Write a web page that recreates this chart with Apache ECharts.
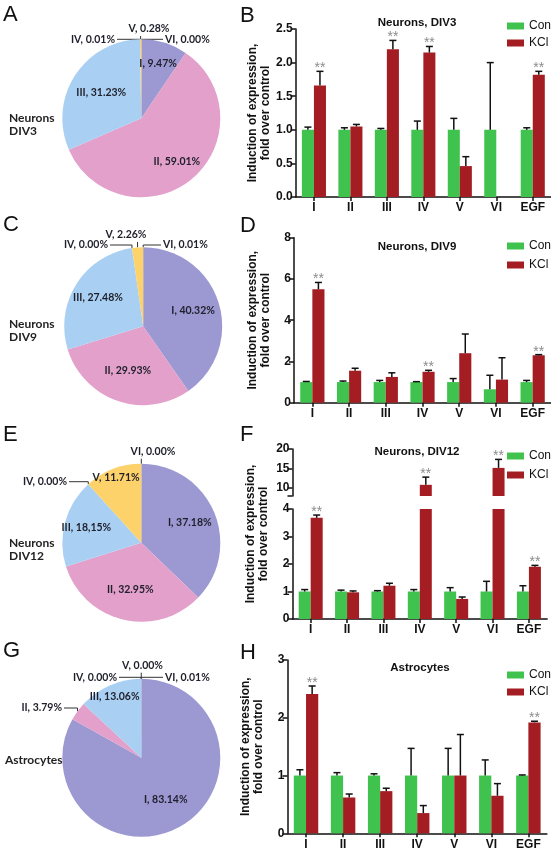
<!DOCTYPE html>
<html><head><meta charset="utf-8">
<script src="https://cdn.jsdelivr.net/npm/echarts@6.0.0/dist/echarts.min.js"></script>
<style>html,body{margin:0;padding:0;background:#fff;}#chart{width:551px;height:853px;}</style>
</head><body><div id="chart"></div>
<script>
// ---------------- data ----------------
const categories = ['I', 'II', 'III', 'IV', 'V', 'VI', 'EGF'];
const sliceNames = ['I', 'II', 'III', 'IV', 'V', 'VI'];

// pie percentages (slices I..VI)
const pieA = [9.47, 59.01, 31.23, 0.01, 0.28, 0.00];
const pieC = [40.32, 29.93, 27.48, 0.00, 2.26, 0.01];
const pieE = [37.18, 32.95, 18.15, 0.00, 11.71, 0.00];
const pieG = [83.14, 3.79, 13.06, 0.00, 0.00, 0.01];

// B: Neurons, DIV3
const conB = [1, 1, 1, 1, 1, 1, 1];
const conErrB = [0.04, 0.03, 0.02, 0.13, 0.17, 1.00, 0.03];
const kclB = [1.66, 1.05, 2.20, 2.15, 0.46, 0, 1.82];
const kclErrB = [0.21, 0.03, 0.13, 0.09, 0.14, null, 0.05];
const sigB = ['I', 'III', 'IV', 'EGF'];

// D: Neurons, DIV9
const conD = [1, 1, 1, 1, 1, 0.65, 1];
const conErrD = [0.03, 0.05, 0.08, 0.02, 0.17, 0.68, 0.08];
const kclD = [5.50, 1.55, 1.25, 1.50, 2.40, 1.12, 2.30];
const kclErrD = [0.33, 0.12, 0.20, 0.07, 0.93, 1.06, 0.03];
const sigD = ['I', 'IV', 'EGF'];

// F: Neurons, DIV12 (broken axis)
const conF = [1, 1, 1, 1, 1, 1, 1];
const conErrF = [0.07, 0.05, 0.03, 0.07, 0.14, 0.37, 0.21];
const kclF = [3.68, 0.97, 1.21, 10.7, 0.73, 15.1, 1.90];
const kclErrF = [0.10, 0.05, 0.09, 2.0, 0.07, 2.2, 0.05];
const sigF = ['I', 'IV', 'VI', 'EGF'];
const upperTicksF = [10, 15, 20];

// H: Astrocytes
const conH = [1, 1, 1, 1, 1, 1, 1];
const conErrH = [0.10, 0.05, 0.03, 0.47, 0.47, 0.27, 0.01];
const kclH = [2.41, 0.62, 0.73, 0.35, 1.00, 0.65, 1.92];
const kclErrH = [0.14, 0.06, 0.05, 0.13, 0.71, 0.21, 0.02];
const sigH = ['I', 'EGF'];

// ---------------- style ----------------
const FONT = '"Liberation Sans", Arial, sans-serif';
const PFONT = 'Lato, "Open Sans", sans-serif';
const INK = '#111';
const GREEN = '#3fc24e', RED = '#a41d23';
const SLICE_COLORS = ['#9b98d2', '#e2a0cb', '#a9d0f2', '#c9a0dc', '#fdd26b', '#9fc06a'];
const BAR_FRAC = 0.33;
const R = 79;
const YNAME = 'Induction of expression,\nfold over control';

const option = {
  animation: false,
  backgroundColor: '#fff',
  title: [], legend: [], grid: [], xAxis: [], yAxis: [], series: []
};

function addTitle(text, left, top, style, align) {
  const t = { text, left, top, padding: 0, textStyle: style };
  if (align) t.textAlign = align;
  option.title.push(t);
}
const LETTER = { fontFamily: FONT, fontWeight: 'normal', fontSize: 22, color: INK };
const PIETXT = { fontFamily: PFONT, fontWeight: 'bold', fontSize: 12, color: '#222', lineHeight: 13 };
const BARTITLE = { fontFamily: FONT, fontWeight: 'bold', fontSize: 11.5, color: INK };

[['A', 3, 4], ['B', 240, 5], ['C', 3, 214], ['D', 240, 215], ['E', 3, 424], ['F', 240, 424], ['G', 3, 640], ['H', 240, 642]]
  .forEach(l => addTitle(l[0], l[1], l[2], LETTER));

// ---------------- bar panels ----------------
function addGrid(g) {
  const gi = option.grid.length;
  option.grid.push({ left: g.left, top: g.top, width: g.width, height: g.height });
  option.xAxis.push({
    type: 'category', gridIndex: gi, data: categories, show: g.showX !== false,
    axisLine: { show: true, lineStyle: { color: INK, width: 1.5 } },
    axisTick: { show: true, alignWithLabel: true, length: 4, lineStyle: { color: INK, width: 1.5 } },
    axisLabel: { color: INK, fontFamily: FONT, fontWeight: 'bold', fontSize: 12, margin: 5 },
    splitLine: { show: false }
  });
  const y = {
    type: 'value', gridIndex: gi, min: g.min, max: g.max, show: g.showY !== false,
    axisLine: { show: g.hideLine ? false : true, lineStyle: { color: INK, width: 1.5 } },
    axisTick: { show: !g.hideLine, length: 5, lineStyle: { color: INK, width: 1.5 } },
    axisLabel: { show: !g.hideLine, color: INK, fontFamily: FONT, fontWeight: 'bold', fontSize: 12, margin: 3, formatter: g.fmt },
    splitLine: { show: false }
  };
  if (g.interval) y.interval = g.interval;
  if (g.labelValues) { y.axisLabel.customValues = g.labelValues; y.axisTick.customValues = g.tickValues; }
  if (g.name) {
    y.name = g.name; y.nameLocation = 'middle'; y.nameGap = 22;
    y.nameTextStyle = { fontFamily: FONT, fontWeight: 'bold', fontSize: 12, color: INK, lineHeight: 13 };
  }
  option.yAxis.push(y);
  return gi;
}

function errSeries(gi, vals, errs, side, sig, keep) {
  const data = [];
  vals.forEach((v, i) => {
    if (v == null || errs[i] == null || !keep(v)) return;
    data.push([i, v, errs[i], (side === 1 && sig.indexOf(categories[i]) >= 0) ? 1 : 0]);
  });
  return {
    type: 'custom', xAxisIndex: gi, yAxisIndex: gi, data, silent: true, z: 5,
    renderItem(params, api) {
      const i = api.value(0), v = api.value(1), e = api.value(2), s = api.value(3);
      const band = api.size([1, 0])[0];
      const off = band * BAR_FRAC / 2 * (side ? 1 : -1);
      const pb = api.coord([i, v]), pt = api.coord([i, v + e]);
      const x = pb[0] + off;
      const cap = 3.5;
      const children = [
        { type: 'line', shape: { x1: x, y1: pb[1], x2: x, y2: pt[1] }, style: { stroke: INK, lineWidth: 1.5 } },
        { type: 'line', shape: { x1: x - cap, y1: pt[1], x2: x + cap, y2: pt[1] }, style: { stroke: INK, lineWidth: 1.5 } }
      ];
      if (s) children.push({
        type: 'text', x: x, y: pt[1] + 4,
        style: { text: '**', fill: '#8c8c8c', font: '14px ' + FONT, textAlign: 'center', textVerticalAlign: 'bottom', align: 'center', verticalAlign: 'bottom' }
      });
      return { type: 'group', children };
    }
  };
}

function addBars(gi, con, conErr, kcl, kclErr, sig, barKeep, errKeep) {
  const cd = con.map(v => barKeep(v) ? v : null);
  const kd = kcl.map(v => barKeep(v) ? v : null);
  option.series.push({ type: 'bar', name: 'Con', xAxisIndex: gi, yAxisIndex: gi, data: cd, barWidth: (BAR_FRAC * 100) + '%', barGap: '0%', clip: true, itemStyle: { color: GREEN }, silent: true });
  option.series.push({ type: 'bar', name: 'KCl', xAxisIndex: gi, yAxisIndex: gi, data: kd, barWidth: (BAR_FRAC * 100) + '%', barGap: '0%', clip: true, itemStyle: { color: RED }, silent: true });
  option.series.push(errSeries(gi, con, conErr, 0, sig, errKeep));
  option.series.push(errSeries(gi, kcl, kclErr, 1, sig, errKeep));
}

function addLegend(top, gap) {
  option.legend.push({
    data: ['Con', 'KCl'], orient: 'vertical', left: 507, top, padding: 0,
    itemWidth: 17, itemHeight: 7, itemGap: gap, icon: 'rect', selectedMode: false,
    textStyle: { fontFamily: FONT, fontSize: 12, color: INK }
  });
}

const all = () => true;
const fmt1 = v => v.toFixed(1);
const fmt0 = v => String(Math.round(v));

// B
let g = addGrid({ left: 295.7, top: 29, width: 256.7, height: 168, min: 0, max: 2.5, interval: 0.5, fmt: fmt1, name: YNAME });
addBars(g, conB, conErrB, kclB, kclErrB, sigB, all, all);
addTitle('Neurons, DIV3', 417, 17, BARTITLE, 'center');
addLegend(20, 5);

// D
g = addGrid({ left: 294, top: 237.7, width: 258.7, height: 165, min: 0, max: 8, interval: 2, fmt: fmt0, name: YNAME });
addBars(g, conD, conErrD, kclD, kclErrD, sigD, all, all);
addTitle('Neurons, DIV9', 417, 241, BARTITLE, 'center');
addLegend(240, 7);

// F (broken axis: lower 0-4, upper segment)
const LOWER_MAX_F = 4;
g = addGrid({ left: 292.5, top: 509, width: 254.6, height: 110, min: 0, max: LOWER_MAX_F, interval: 1, fmt: fmt0 });
addBars(g, conF, conErrF, kclF, kclErrF, sigF, all, v => v <= LOWER_MAX_F);
g = addGrid({ left: 292.5, top: 449, width: 254.6, height: 47, min: 7.8, max: 20, fmt: fmt0, showX: false, labelValues: upperTicksF, tickValues: [7.8].concat(upperTicksF) });
addBars(g, conF, conErrF, kclF, kclErrF, sigF, v => v > LOWER_MAX_F, v => v > LOWER_MAX_F);
addGrid({ left: 292.5, top: 449, width: 254.6, height: 170, min: 0, max: 1, showX: false, hideLine: true, name: YNAME });
addTitle('Neurons, DIV12', 417, 446, BARTITLE, 'center');
addLegend(450, 7);

// H
g = addGrid({ left: 287.5, top: 660, width: 259.4, height: 173.3, min: 0, max: 3, interval: 1, fmt: fmt0, name: YNAME });
addBars(g, conH, conErrH, kclH, kclErrH, sigH, all, all);
addTitle('Astrocytes', 420, 662, BARTITLE, 'center');
addLegend(669, 5);

// ---------------- pies ----------------
function addPie(values, cx, cy, radial, outside, override) {
  option.series.push({
    type: 'pie', center: [cx, cy], radius: R, startAngle: 90, clockwise: true,
    avoidLabelOverlap: false, silent: true, minShowLabelAngle: 0,
    data: sliceNames.map((n, i) => ({
      name: n, value: values[i], itemStyle: { color: SLICE_COLORS[i] },
      label: { position: outside[n] ? 'outside' : 'inside' },
      labelLine: { show: !!outside[n] }
    })),
    label: {
      show: true, color: '#1f1f2b', fontFamily: PFONT, fontWeight: 'bold', fontSize: 10.5,
      formatter: p => p.name + ', ' + (override[p.name] || p.value.toFixed(2)) + '%'
    },
    labelLine: { length: 0, length2: 0, smooth: false, lineStyle: { color: '#333', width: 1 } },
    labelLayout: params => {
      const n = sliceNames[params.dataIndex];
      const o = outside[n];
      if (o) {
        const a = (params.labelLinePoints && params.labelLinePoints[0]) || [cx, cy - R];
        const lx = cx + o[0], ly = cy + o[1];
        let pts;
        if (o[2] === 'center') pts = [a, [a[0], ly + 7]];
        else {
          const ex = o[2] === 'right' ? lx + 2 : lx - 2;
          pts = [a, [a[0], ly], [ex, ly]];
        }
        return { x: lx, y: ly, align: o[2], verticalAlign: 'middle', labelLinePoints: pts };
      }
      const r = params.labelRect;
      const mx = r.x + r.width / 2, my = r.y + r.height / 2;
      const k = radial[n] || 1.25;
      return { x: cx + (mx - cx) * k, y: cy + (my - cy) * k, align: 'center', verticalAlign: 'middle' };
    }
  });
}

addPie(pieA, 141.3, 118.3, { I: 1.35, II: 1.31, III: 1.12 },
  { IV: [-26.3, -79, 'right'], V: [7.7, -89.3, 'center'], VI: [23.7, -79, 'left'] }, {});
addPie(pieC, 143.2, 326.2, { I: 1.23, II: 1.11, III: 1.26 },
  { IV: [-35.2, -81.2, 'right'], V: [-17.2, -91.2, 'center'], VI: [19.8, -81.2, 'left'] }, {});
addPie(pieE, 141.3, 542.8, { I: 1.24, II: 1.14, III: 1.34, V: 1.65 },
  { IV: [-74.3, -61.1, 'right'], VI: [11.7, -91.1, 'center'] }, { III: '18,15' });
addPie(pieG, 141.3, 757.8, { I: 1.14, III: 1.57 },
  { II: [-79.3, -49.8, 'right'], IV: [-24.3, -80.5, 'right'], V: [1.2, -92.1, 'center'], VI: [23.7, -80.5, 'left'] }, {});

addTitle('Neurons\nDIV3', 9, 112, PIETXT);
addTitle('Neurons\nDIV9', 9, 318, PIETXT);
addTitle('Neurons\nDIV12', 9, 537, PIETXT);
addTitle('Astrocytes', 5, 754, PIETXT);

const chart = echarts.init(document.getElementById('chart'), null, { renderer: 'canvas', width: 551, height: 853 });
chart.setOption(option);
</script>
</body></html>
